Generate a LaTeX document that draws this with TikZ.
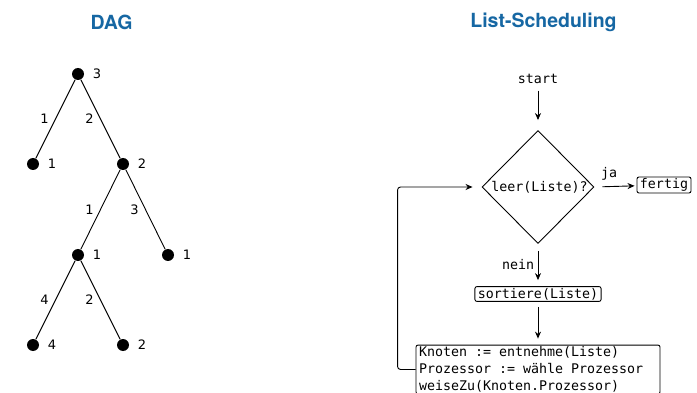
\documentclass[tikz,border=0pt]{standalone}
\usepackage{fontspec}
\usepackage{xcolor}
\setmainfont{DejaVu Sans}
\setsansfont{TeX Gyre Heros}
\setmonofont{DejaVu Sans Mono}
\usetikzlibrary{shapes.geometric, arrows.meta, positioning, calc}
\definecolor{titelblau}{RGB}{22,103,163}
\newcommand{\lz}{\hphantom{x}}

\begin{document}
\begin{tikzpicture}[x=1pt,y=-1pt,line width=0.9pt,
    titel/.style={font=\fontsize{19.5}{22}\sffamily\bfseries,text=titelblau},
    punkt/.style={circle,fill=black,minimum size=12pt,inner sep=0pt},
    gewicht/.style={font=\fontsize{13}{15}\selectfont,inner sep=0pt,label distance=8pt},
    kante/.style={midway,xshift=-11pt,font=\fontsize{13}{15}\selectfont,inner sep=0pt},
    mono/.style={font=\fontsize{13.3}{17}\ttfamily},
    kasten/.style={mono,draw,rounded corners=2pt,inner xsep=3pt,inner ysep=1.5pt},
    pfeil/.style={-{Stealth[length=7pt,width=6pt]}}]
    \clip (0,0) rectangle (697,393);

    % Titel
    \node[titel] (dagtitel) at (111.5,22) {DAG};
    \node[titel] (listtitel) at (543.5,22) {List-Scheduling};

    % DAG
    \node[punkt,label={[gewicht]right:3}] (a) at (78,74) {};
    \node[punkt,label={[gewicht]right:1}] (b) at (33,164) {};
    \node[punkt,label={[gewicht]right:2}] (c) at (123,164) {};
    \node[punkt,label={[gewicht]right:1}] (d) at (78,255) {};
    \node[punkt,label={[gewicht]right:1}] (e) at (168,255) {};
    \node[punkt,label={[gewicht]right:4}] (f) at (33,345) {};
    \node[punkt,label={[gewicht]right:2}] (g) at (123,345) {};
    \draw (a) -- (b) node[kante] {1};
    \draw (a) -- (c) node[kante] {2};
    \draw (c) -- (d) node[kante] {1};
    \draw (c) -- (e) node[kante] {3};
    \draw (d) -- (f) node[kante] {4};
    \draw (d) -- (g) node[kante] {2};

    % Ablauf
    \node[mono] (start) at (538,79) {start};
    \node[draw,diamond,minimum width=112pt,minimum height=113pt,inner sep=0pt] (test) at (538,187) {};
    \node[mono] (testtext) at (539.5,187) {leer(Liste)?};
    \node[kasten] (fertig) at (664,185) {fertig};
    \node[kasten] (sort) at (538,294) {sortiere(Liste)};
    \node[kasten,text width=238pt,align=left] (zuweisen) at (538,369.5)
        {Knoten\lz:=\lz entnehme(Liste)\\Prozessor\lz:=\lz wähle\lz Prozessor\\weiseZu(Knoten.Prozessor)};

    \draw[pfeil,shorten <=3pt,shorten >=10pt] (start) -- (test);
    \draw[pfeil,shorten <=8pt,shorten >=2pt] (test.east) -- (fertig) node[mono,above=3pt,pos=0.35] {ja};
    \draw[pfeil,shorten <=7pt,shorten >=6pt] (test.south) -- (sort.north) node[mono,left,midway] {nein};
    \draw[pfeil,shorten <=5pt,shorten >=6pt] (sort) -- (zuweisen);
    \draw[pfeil,rounded corners=3pt,shorten >=9pt] (zuweisen.west) -- ++(-18,0) |- (test.west);
\end{tikzpicture}
\end{document}
